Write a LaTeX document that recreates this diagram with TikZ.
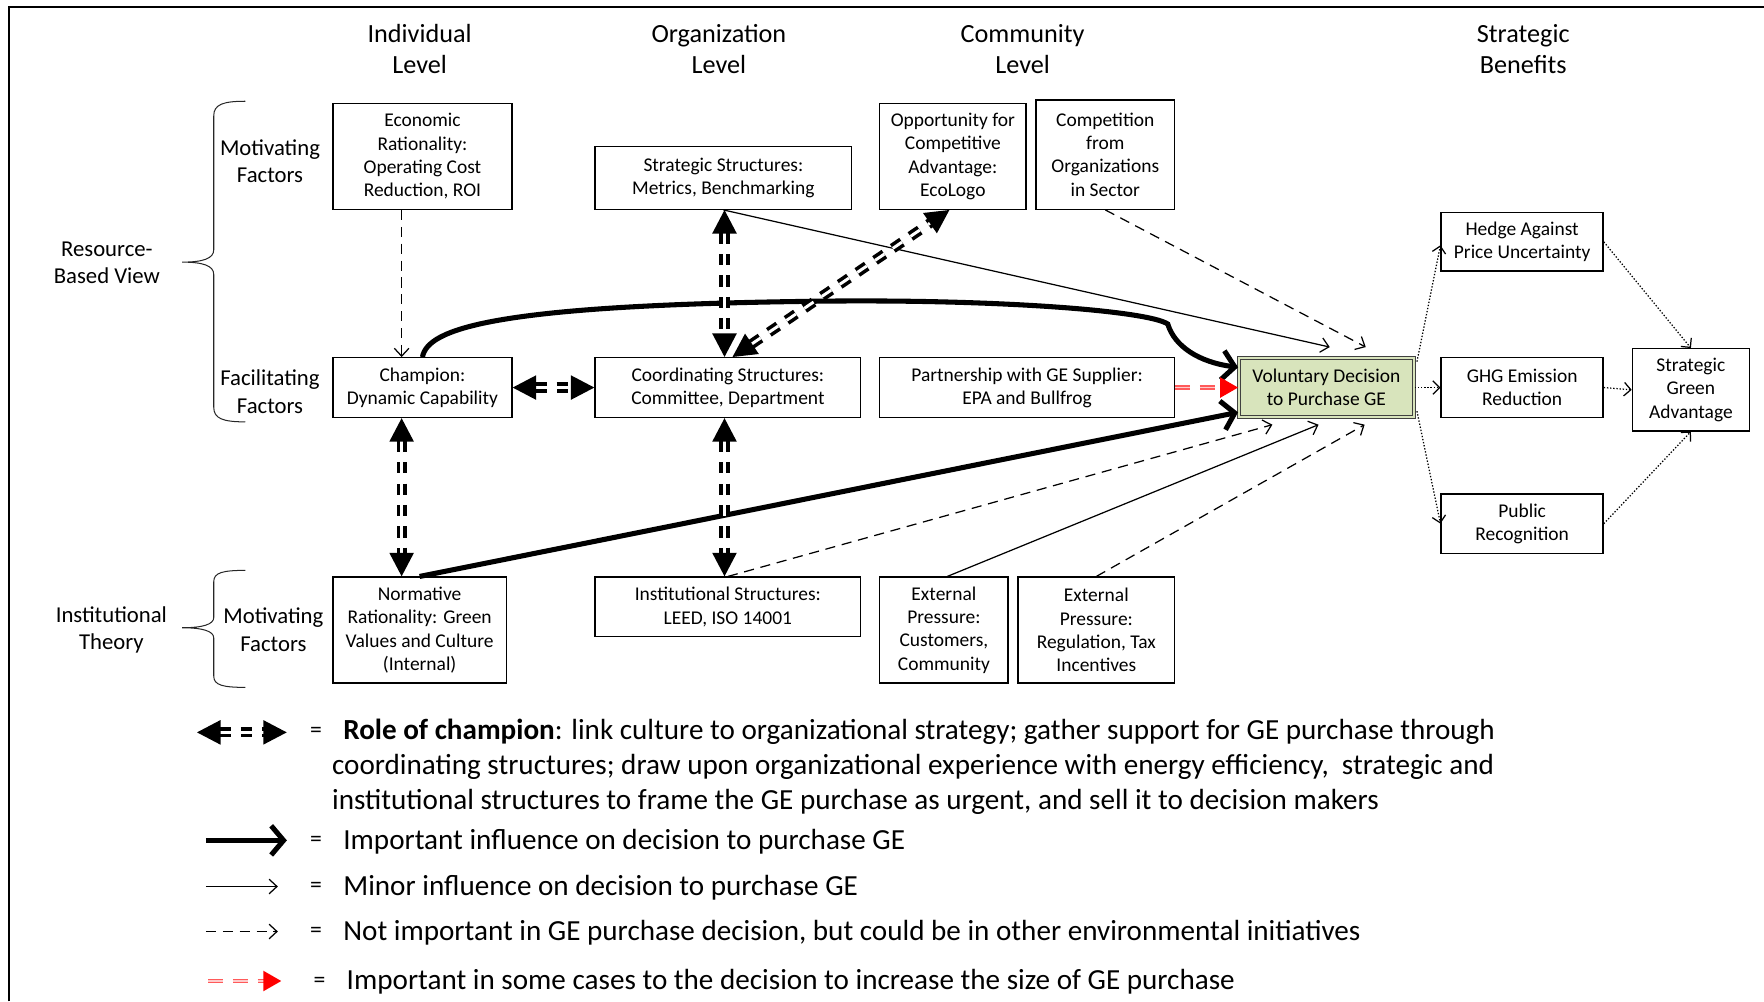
\documentclass[tikz,border=0pt]{standalone}
\usepackage{fontspec}
\setmainfont{Carlito}
\usetikzlibrary{arrows.meta}
\definecolor{decgreen}{RGB}{216,228,188}
\definecolor{sizered}{RGB}{255,90,90}
\begin{document}
\begin{tikzpicture}[x=1pt,y=-1pt,
  box/.style={draw, line width=1.2pt, align=center, inner sep=0pt, font=\fontsize{17.3}{20.7}\selectfont},
  colhead/.style={align=center, inner sep=0pt, font=\fontsize{23.3}{27}\selectfont},
  sidelabel/.style={align=center, inner sep=0pt, font=\fontsize{20.2}{24.5}\selectfont},
  legtext/.style={anchor=west, inner sep=0pt, font=\fontsize{25.9}{31}\selectfont},
  eqsign/.style={inner sep=0pt, font=\fontsize{21}{24}\selectfont},
  brace/.style={line width=0.9pt, black!85},
  minorarr/.style={line width=1.1pt, -{Straight Barb[length=7pt,width=13pt]}},
  notimparr/.style={minorarr, dash pattern=on 9pt off 6pt},
  majorarr/.style={line width=4.5pt, -{Straight Barb[length=11pt,width=26pt]}},
  rolearr/.style={line width=3.2pt, double=white, double distance=2.6pt, dash pattern=on 10pt off 9pt, {Triangle[length=21pt,width=21pt]}-{Triangle[length=21pt,width=21pt]}},
  sizearr/.style={draw=sizered, line width=1.4pt, double=red!20, double distance=1.4pt, dash pattern=on 13pt off 9pt, -{Triangle[length=16pt,width=18pt,color=red,fill=red]}},
  benefitarr/.style={line width=1.1pt, dash pattern=on 1.2pt off 1.6pt, -{Straight Barb[length=6pt,width=12pt]}},
]
\useasboundingbox (0,0) rectangle (1568,890);
% frame
\draw[line width=1.6pt] (8,890) -- (8,6) -- (1568,6);

% column headings
\node[colhead] (hInd) at (373,43.5) {Individual\\Level};
\node[colhead] (hOrg) at (639,43.5) {Organization\\Level};
\node[colhead] (hCom) at (909,43.5) {Community\\Level};
\node[colhead] (hBen) at (1354,43.5) {Strategic\\Benefits};

% row labels
\node[sidelabel] (rbv) at (95,233.5) {Resource-\\Based View};
\node[sidelabel] (mot1) at (240,143.5) {Motivating\\Factors};
\node[sidelabel] (fac) at (240,348) {Facilitating\\Factors};
\node[sidelabel] (inth) at (99,560) {Institutional\\Theory};
\node[sidelabel] (mot2) at (243,560) {Motivating\\Factors};

% braces
\draw[brace] (218,90) .. controls (198,90) and (190,93) .. (190,103) -- (190,222)
  .. controls (190,230) and (180,233) .. (162,233) .. controls (180,233) and (190,236) .. (190,244)
  -- (190,362) .. controls (190,372) and (198,375) .. (218,375);
\draw[brace] (218,507) .. controls (198,507) and (190,509) .. (190,517) -- (190,549)
  .. controls (190,555) and (180,558) .. (162,558) .. controls (180,558) and (190,561) .. (190,567)
  -- (190,601) .. controls (190,609) and (198,611) .. (218,611);

% boxes
\node[box, minimum width=159pt, minimum height=94pt] (econ) at (375.5,139) {Economic\\Rationality:\\Operating Cost\\Reduction, ROI};
\node[box, minimum width=159pt, minimum height=53pt] (champ) at (375.5,344.5) {Champion:\\Dynamic Capability};
\node[box, minimum width=154pt, minimum height=94pt] (norm) at (373,560) {Normative\\Rationality: Green\\Values and Culture\\(Internal)};
\node[box, minimum width=228pt, minimum height=56pt] (strat) at (643,158) {Strategic Structures:\\Metrics, Benchmarking};
\node[box, minimum width=236pt, minimum height=53pt] (coord) at (647,344.5) {Coordinating Structures:\\Committee, Department};
\node[box, minimum width=236pt, minimum height=53pt] (inst) at (647,539.5) {Institutional Structures:\\LEED, ISO 14001};
\node[box, minimum width=130pt, minimum height=94pt] (opp) at (847,139) {Opportunity for\\Competitive\\Advantage:\\EcoLogo};
\node[box, minimum width=123pt, minimum height=97pt] (comp) at (982.5,137.5) {Competition\\from\\Organizations\\in Sector};
\node[box, minimum width=262pt, minimum height=53pt] (partner) at (913,344.5) {Partnership with GE Supplier:\\EPA and Bullfrog};
\node[box, minimum width=114pt, minimum height=94pt] (extc) at (839,560) {External\\Pressure:\\Customers,\\Community};
\node[box, minimum width=139pt, minimum height=94pt] (extr) at (974.5,560) {External\\Pressure:\\Regulation, Tax\\Incentives};
\node[box, draw=black!75, line width=1pt, double=decgreen, double distance=1.6pt, fill=decgreen, minimum width=156pt, minimum height=53pt] (vol) at (1179,344.5) {Voluntary Decision\\to Purchase GE};
\node[box, minimum width=144pt, minimum height=52pt] (hedge) at (1353,215) {Hedge Against\\Price Uncertainty};
\node[box, minimum width=144pt, minimum height=53pt] (ghg) at (1353,344.5) {GHG Emission\\Reduction};
\node[box, minimum width=144pt, minimum height=53pt] (pub) at (1353,465.5) {Public\\Recognition};
\node[box, minimum width=104pt, minimum height=73pt] (sga) at (1503,346.5) {Strategic\\Green\\Advantage};

% influences on the decision
\draw[notimparr] ([xshift=-18.5pt]econ.south) -- ([xshift=-18.5pt]champ.north);
\draw[majorarr] (champ.north) .. controls (380,292) and (440,272) .. (709,268)
  .. controls (880,265) and (1020,276) .. (1038,288)
  .. controls (1044,308) and (1066,322) .. ([shift={(0,-18)}]vol.west);
\draw[majorarr] (norm.north) -- ([shift={(0,22)}]vol.west);
\draw[minorarr] (strat.south) -- ([shift={(3,-9)}]vol.north);
\draw[notimparr] (comp.south) -- ([shift={(35,-9)}]vol.north);
\draw[sizearr] (partner.east) -- (vol.west);
\draw[notimparr] (inst.north) -- ([shift={(-48,6)}]vol.south);
\draw[minorarr] ([xshift=3pt]extc.north) -- ([shift={(-7,6)}]vol.south);
\draw[notimparr] (extr.north) -- ([shift={(34,6)}]vol.south);

% role of the champion
\draw[rolearr] (champ.east) -- (coord.west);
\draw[rolearr] ([xshift=-18.5pt]champ.south) -- ([xshift=-16pt]norm.north);
\draw[rolearr] (strat.south -| 644,0) -- (coord.north -| 644,0);
\draw[rolearr] (coord.south -| 644,0) -- (inst.north -| 644,0);
\draw[rolearr] ([xshift=4pt]coord.north) -- ([xshift=-3pt]opp.south);

% strategic benefits
\draw[benefitarr] ([shift={(2,4)}]vol.north east) -- ([shift={(0,3)}]hedge.west);
\draw[benefitarr] (vol.east) -- (ghg.west);
\draw[benefitarr] ([shift={(2,-6)}]vol.south east) -- (pub.west);
\draw[benefitarr] (hedge.east) -- (sga.north);
\draw[benefitarr] (ghg.east) -- (sga.west);
\draw[benefitarr] (pub.east) -- (sga.south);

% legend
\coordinate (k1a) at (175,651); \coordinate (k1b) at (255,651);
\draw[rolearr] (k1a) -- (k1b);
\node[eqsign] (q1) at (281,651) {=};
\node[legtext] (t1) at (305,651) {\strut\textbf{Role of champion}: link culture to organizational strategy; gather support for GE purchase through};
\node[legtext] (t1b) at (295,682.5) {\strut coordinating structures; draw upon organizational experience with energy efficiency,\ \ strategic and};
\node[legtext] (t1c) at (295,713.5) {\strut institutional structures to frame the GE purchase as urgent, and sell it to decision makers};

\coordinate (k2a) at (183,747); \coordinate (k2b) at (255,747);
\draw[majorarr] (k2a) -- (k2b);
\node[eqsign] (q2) at (281,748) {=};
\node[legtext] (t2) at (305,749) {\strut Important influence on decision to purchase GE};

\coordinate (k3a) at (183,788); \coordinate (k3b) at (247,788);
\draw[minorarr] (k3a) -- (k3b);
\node[eqsign] (q3) at (281,789) {=};
\node[legtext] (t3) at (305,789.5) {\strut Minor influence on decision to purchase GE};

\coordinate (k4a) at (183,828); \coordinate (k4b) at (247,828);
\draw[notimparr] (k4a) -- (k4b);
\node[eqsign] (q4) at (281,829) {=};
\node[legtext] (t4) at (305,829.5) {\strut Not important in GE purchase decision, but could be in other environmental initiatives};

\coordinate (k5a) at (185,872); \coordinate (k5b) at (250,872);
\draw[sizearr] (k5a) -- (k5b);
\node[eqsign] (q5) at (284,873) {=};
\node[legtext] (t5) at (308,873.5) {\strut Important in some cases to the decision to increase the size of GE purchase};
\end{tikzpicture}
\end{document}
